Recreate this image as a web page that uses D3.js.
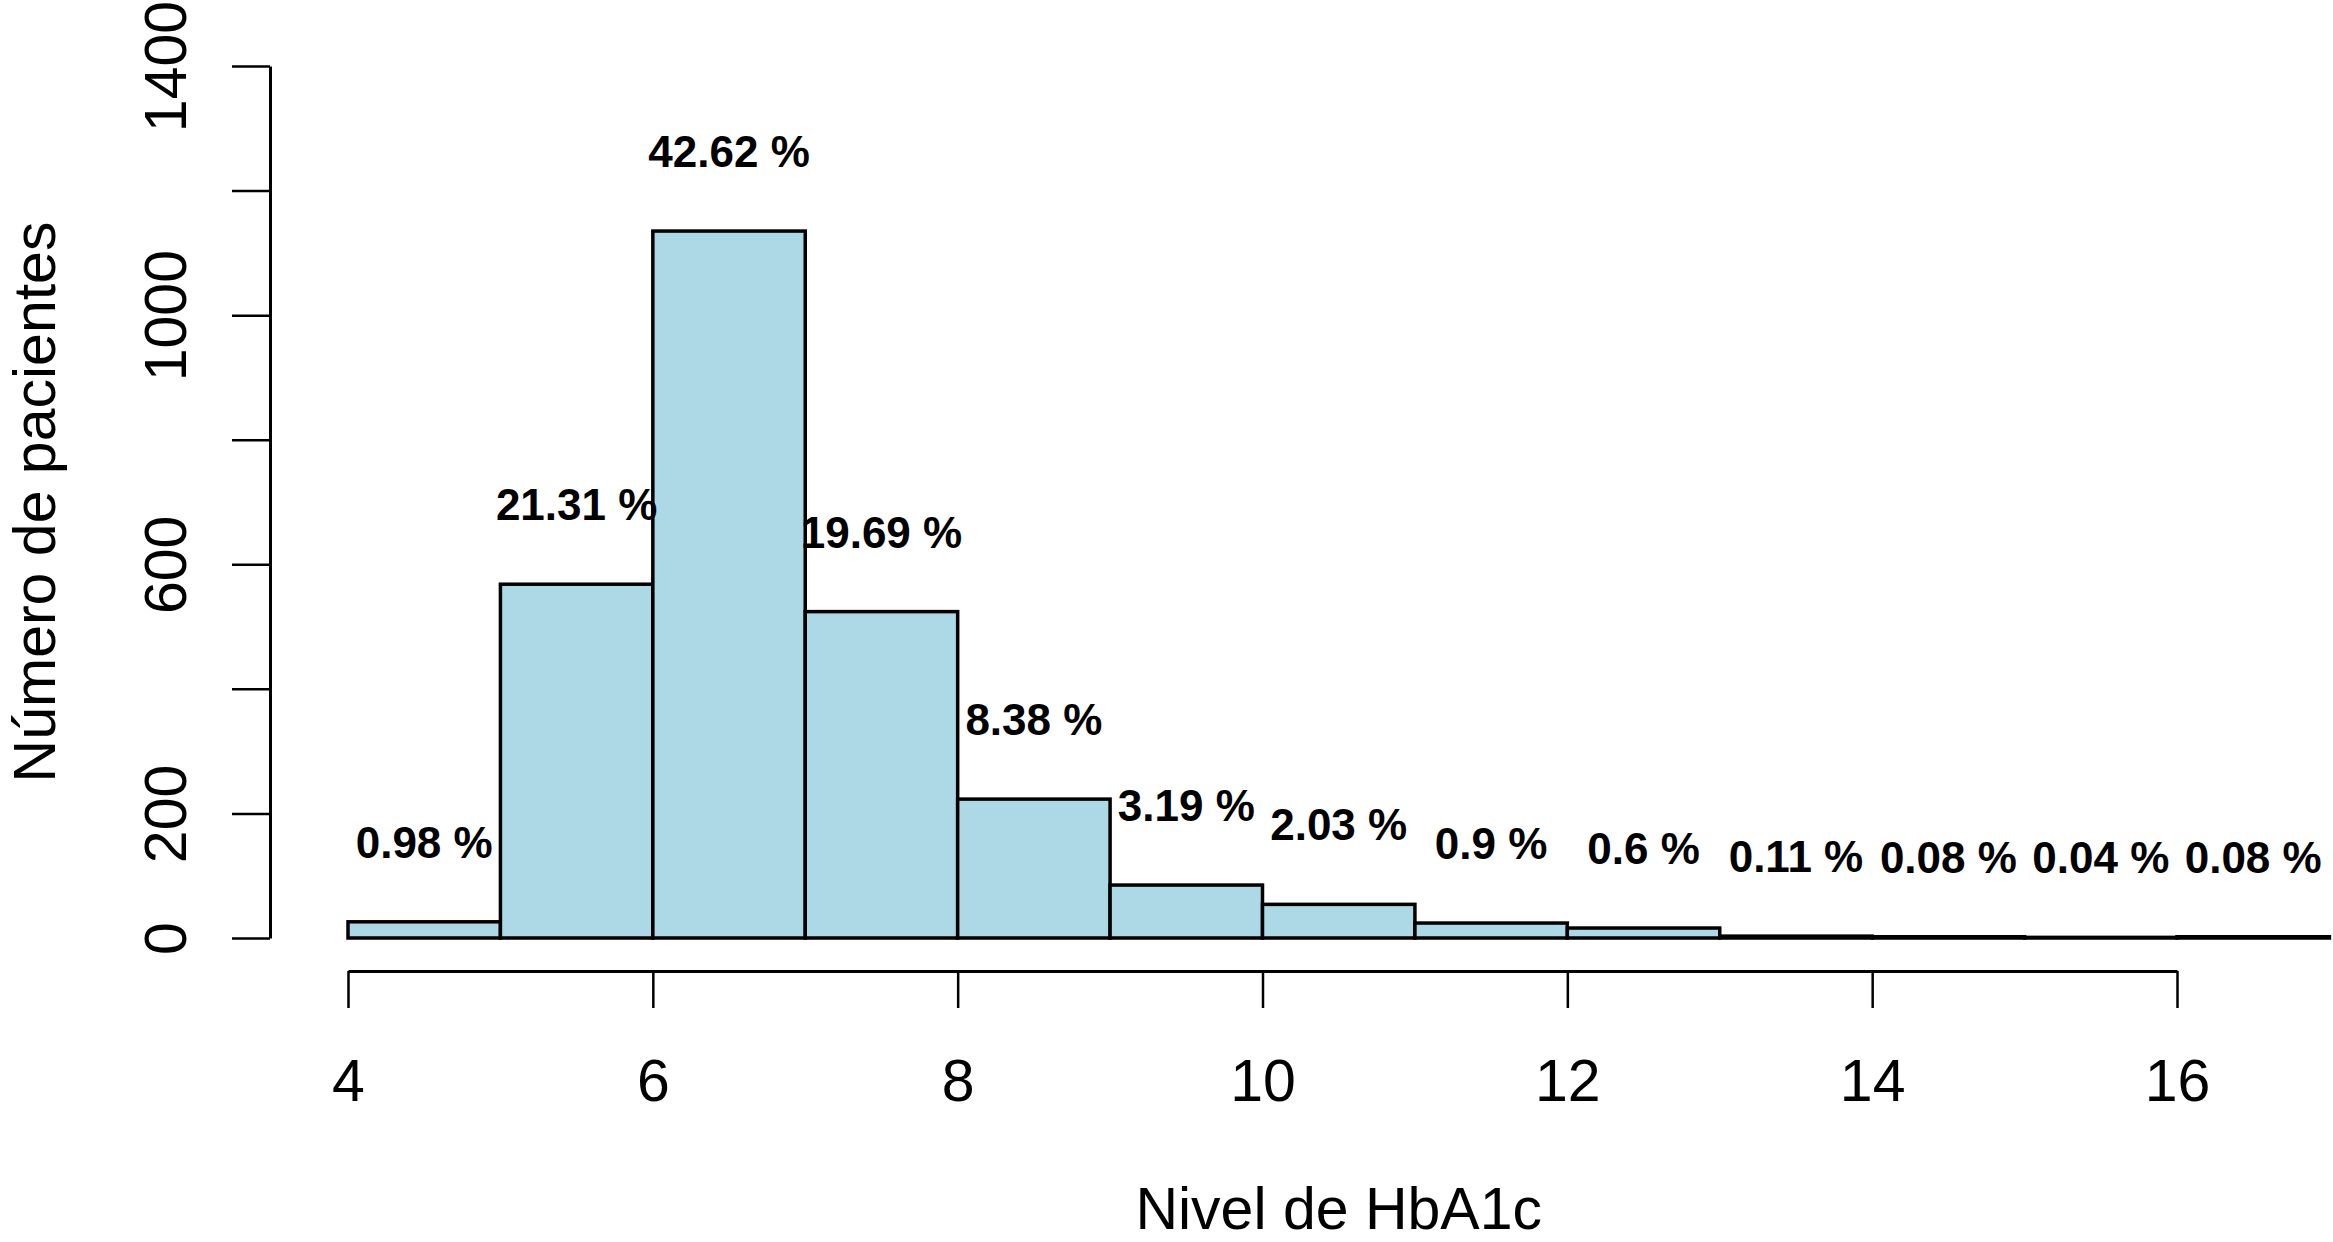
<!DOCTYPE html>
<html>
<head>
<meta charset="utf-8">
<script src="https://cdnjs.cloudflare.com/ajax/libs/d3/7.8.5/d3.min.js"></script>
<style>
  body { margin: 0; background: #fff; }
  svg { display: block; }
  text { font-family: "Liberation Sans", Arial, sans-serif; fill: #000; }
</style>
</head>
<body>
<div id="chart"></div>
<script>
// histogram bins (HbA1c level, width 1)
const binStarts = [4, 5, 6, 7, 8, 9, 10, 11, 12, 13, 14, 15, 16];
const patientCounts = [26, 568, 1135, 524, 223, 85, 54, 24, 16, 3, 2, 1, 2];
const pctLabels = ['0.98 %', '21.31 %', '42.62 %', '19.69 %', '8.38 %', '3.19 %', '2.03 %',
  '0.9 %', '0.6 %', '0.11 %', '0.08 %', '0.04 %', '0.08 %'];
const xTicks = [4, 6, 8, 10, 12, 14, 16];
const yTicks = [0, 200, 400, 600, 800, 1000, 1200, 1400];
const yTickLabels = [0, 200, 600, 1000, 1400];

const w = 2333;
const h = 1242;

const xScale = d3.scaleLinear().domain([4, 16]).range([348, 2177]);
const yScale = d3.scaleLinear().domain([0, 1400]).range([938, 66]);

const svg = d3.select('#chart').
append('svg').
attr('width', w).
attr('height', h);

// bars
svg.selectAll('rect.bar').
data(binStarts).
enter().
append('rect').
attr('class', 'bar').
attr('x', d => xScale(d)).
attr('width', d => xScale(d + 1) - xScale(d)).
attr('y', (d, i) => yScale(patientCounts[i])).
attr('height', (d, i) => yScale(0) - yScale(patientCounts[i])).
attr('fill', '#ADD8E6').
attr('stroke', '#000').
attr('stroke-width', 3.5);

// percentage labels above each bar
svg.selectAll('text.pct').
data(binStarts).
enter().
append('text').
attr('class', 'pct').
attr('x', d => xScale(d + 0.5)).
attr('y', (d, i) => yScale(patientCounts[i]) - 64).
attr('text-anchor', 'middle').
style('font-size', '44px').
style('font-weight', 'bold').
text((d, i) => pctLabels[i]);

// y axis
const yAxis = d3.axisLeft(yScale).
tickValues(yTicks).
tickSize(38).
tickSizeOuter(0).
tickFormat(d => yTickLabels.includes(d) ? d : '');

svg.append('g').
attr('id', 'y-axis').
attr('transform', 'translate(270, 0)').
call(yAxis).
call(g => {
  g.select('.domain').attr('stroke-width', 3);
  g.selectAll('.tick line').attr('stroke-width', 2.5);
  g.selectAll('.tick text').
  attr('transform', 'rotate(-90)').
  attr('x', 0).
  attr('y', -84).
  attr('dy', 0).
  attr('text-anchor', 'middle').
  style('font-size', '59px').
  style('font-family', '"Liberation Sans", Arial, sans-serif');
});

// x axis
const xAxis = d3.axisBottom(xScale).
tickValues(xTicks).
tickSize(37).
tickSizeOuter(0).
tickFormat(d3.format('d'));

svg.append('g').
attr('id', 'x-axis').
attr('transform', 'translate(0, 971)').
call(xAxis).
call(g => {
  g.select('.domain').attr('stroke-width', 3);
  g.selectAll('.tick line').attr('stroke-width', 2.5);
  g.selectAll('.tick text').
  attr('y', 130).
  attr('dy', 0).
  style('font-size', '59px').
  style('font-family', '"Liberation Sans", Arial, sans-serif');
});

// axis titles
svg.append('text').
attr('x', xScale(10.5)).
attr('y', 1229).
attr('text-anchor', 'middle').
style('font-size', '59px').
text('Nivel de HbA1c');

svg.append('text').
attr('transform', 'translate(55, ' + (yScale(0) + yScale(1400)) / 2 + ') rotate(-90)').
attr('text-anchor', 'middle').
style('font-size', '59px').
text('Número de pacientes');
</script>
</body>
</html>
